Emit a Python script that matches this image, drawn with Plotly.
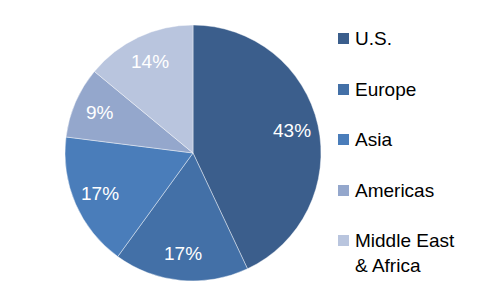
import math
import plotly.graph_objects as go

labels = ["U.S.", "Europe", "Asia", "Americas", "Middle East<br>& Africa"]
values = [43, 17, 17, 9, 14]
colors = ["#3B5E8C", "#4370A7", "#4A7DBA", "#94A7CC", "#B9C5DE"]

W, H = 496, 300
CX, CY, R = 193, 147, 128  # pixel centre (from bottom) and radius

fig = go.Figure(go.Pie(
    labels=labels, values=values, sort=False, direction="clockwise", rotation=0,
    marker=dict(colors=colors, line=dict(color="rgba(255,255,255,0.6)", width=0.7)),
    textinfo="none",
    domain=dict(x=[(CX - R) / W, (CX + R) / W], y=[(CY - R) / H, (CY + R) / H]),
    showlegend=False, hoverinfo="label+percent",
))

# percentage labels placed at slice mid-angles
total = sum(values)
cum = 0
for v in values:
    mid = (cum + v / 2) / total * 2 * math.pi
    cum += v
    rr = 0.79 * R
    px = CX + rr * math.sin(mid)
    py = CY + rr * math.cos(mid)
    fig.add_annotation(x=px / W, y=py / H, xref="paper", yref="paper",
                       xanchor="center", yanchor="middle", showarrow=False,
                       text=f"{round(v / total * 100)}%",
                       font=dict(family="Liberation Sans, Arial", size=19, color="white"))

ys = [38, 89, 139, 190, 240]
for lab, col, y in zip(labels, colors, ys):
    fig.add_shape(type="rect", xref="paper", yref="paper",
                  x0=338 / W, x1=349 / W, y0=1 - (y + 6) / H, y1=1 - (y - 5) / H,
                  fillcolor=col, line=dict(width=0))
    fig.add_annotation(x=353 / W, y=1 - (y - 12) / H, xref="paper", yref="paper",
                       xanchor="left", yanchor="top", text=lab, showarrow=False, align="left",
                       font=dict(family="Liberation Sans, Arial", size=19, color="#000000"))

fig.update_layout(width=W, height=H, margin=dict(l=0, r=0, t=0, b=0),
                  paper_bgcolor="white", plot_bgcolor="white")
fig.write_html("out.html")
